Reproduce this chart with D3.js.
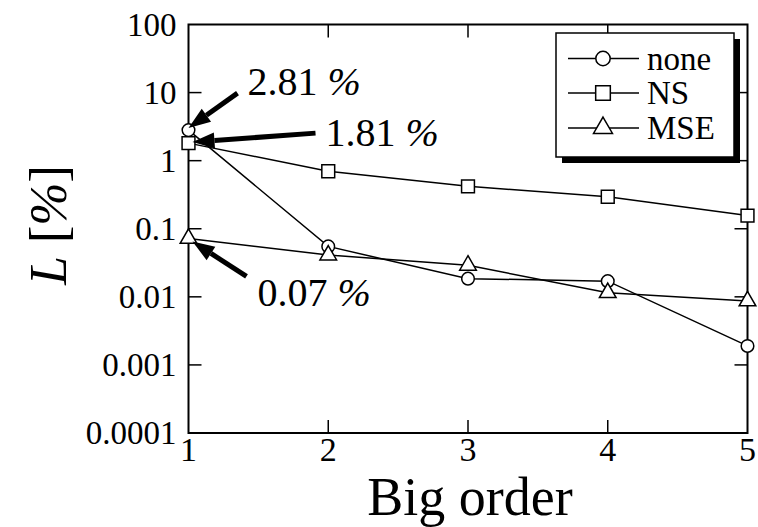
<!DOCTYPE html>
<html><head><meta charset="utf-8">
<script src="https://cdn.jsdelivr.net/npm/d3@7"></script>
<style>body{margin:0;background:#fff}svg{display:block}text{font-family:"Liberation Serif","Times New Roman",serif;fill:#000}</style>
</head><body>
<svg id="c" width="758" height="527"></svg>
<script>
const orders = [1, 2, 3, 4, 5];
const noneVals = [2.81, 0.055, 0.0185, 0.017, 0.0019];
const nsVals = [1.81, 0.70, 0.42, 0.295, 0.156];
const mseVals = [0.072, 0.041, 0.029, 0.0115, 0.0087];
const seriesNames = ["none", "NS", "MSE"];
const yTicks = [100, 10, 1, 0.1, 0.01, 0.001, 0.0001];
const yTickLabels = ["100", "10", "1", "0.1", "0.01", "0.001", "0.0001"];
const xTicks = [1, 2, 3, 4, 5];
const annotations = [
  {series: 0, idx: 0, num: "2.81"},
  {series: 1, idx: 0, num: "1.81"},
  {series: 2, idx: 0, num: "0.07"}
];

const FF = "'Liberation Serif','Times New Roman',serif";
const svg = d3.select("#c");
const L = 188.5, R = 747.5, T = 24.5, B = 433;
const x = d3.scaleLinear().domain([1, 5]).range([L, R]);
const y = d3.scaleLog().domain([0.0001, 100]).range([B, T]);
const series = [noneVals, nsVals, mseVals];
const shapes = [d3.symbolCircle, d3.symbolSquare, d3.symbolTriangle];
const sizes = [125, 165, 120];

// frame
svg.append("rect").attr("x", L).attr("y", T).attr("width", R - L).attr("height", B - T)
  .attr("fill", "none").attr("stroke", "#000").attr("stroke-width", 2);

// y ticks (left & right, inward)
const tl = 13;
yTicks.forEach((v, i) => {
  const yy = y(v);
  if (i > 0 && i < yTicks.length - 1) {
    svg.append("line").attr("x1", L).attr("x2", L + tl).attr("y1", yy).attr("y2", yy).attr("stroke", "#000").attr("stroke-width", 1.5);
    svg.append("line").attr("x1", R).attr("x2", R - tl).attr("y1", yy).attr("y2", yy).attr("stroke", "#000").attr("stroke-width", 1.5);
  }
  svg.append("text").attr("x", L - 12).attr("y", yy).attr("dy", "0.34em").attr("text-anchor", "end")
    .attr("font-family", FF).attr("font-size", 33).text(yTickLabels[i]);
});
// x ticks (bottom & top, inward)
xTicks.forEach((v, i) => {
  const xx = x(v);
  if (i > 0 && i < xTicks.length - 1) {
    svg.append("line").attr("x1", xx).attr("x2", xx).attr("y1", B).attr("y2", B - tl).attr("stroke", "#000").attr("stroke-width", 1.5);
    svg.append("line").attr("x1", xx).attr("x2", xx).attr("y1", T).attr("y2", T + tl).attr("stroke", "#000").attr("stroke-width", 1.5);
  }
  svg.append("text").attr("x", xx).attr("y", 461).attr("text-anchor", "middle")
    .attr("font-family", FF).attr("font-size", 34).text(String(v));
});

// axis labels
svg.append("text").attr("x", 470).attr("y", 515).attr("text-anchor", "middle").attr("font-family", FF).attr("font-size", 54).text("Big order");
const yl = svg.append("text").attr("transform", "translate(66,225) rotate(-90)").attr("text-anchor", "middle").attr("font-family", FF).attr("font-size", 52);
yl.append("tspan").attr("font-style", "italic").text("L");
yl.append("tspan").text(" [");
yl.append("tspan").attr("font-style", "italic").text("%");
yl.append("tspan").text("]");

// lines
const line = d3.line().x((d, i) => x(orders[i])).y(d => y(d));
series.forEach(s => {
  svg.append("path").attr("d", line(s)).attr("fill", "none").attr("stroke", "#000").attr("stroke-width", 1.5);
});
// markers
series.forEach((s, k) => {
  svg.selectAll(null).data(s).enter().append("path")
    .attr("transform", (d, i) => `translate(${x(orders[i])},${y(d)})`)
    .attr("d", d3.symbol().type(shapes[k]).size(sizes[k]))
    .attr("fill", "#fff").attr("stroke", "#000").attr("stroke-width", 1.5);
});

// annotations with arrows
const arrowGeom = [
  {tail: [49, -37], tip: [0, -2], tx: 59, ty: -35},
  {tail: [127, -10], tip: [4, -1], tx: 137, ty: 3},
  {tail: [58, 38], tip: [4, 3], tx: 69, ty: 68}
];
function arrow(x1, y1, x2, y2) {
  const ang = Math.atan2(y2 - y1, x2 - x1);
  const hl = 22, hw = 8;
  const bx = x2 - hl * Math.cos(ang), by = y2 - hl * Math.sin(ang);
  svg.append("line").attr("x1", x1).attr("y1", y1).attr("x2", bx).attr("y2", by).attr("stroke", "#000").attr("stroke-width", 5);
  const px = -Math.sin(ang) * hw, py = Math.cos(ang) * hw;
  svg.append("path").attr("d", `M${x2},${y2}L${bx + px},${by + py}L${bx - px},${by - py}Z`).attr("fill", "#000");
}
annotations.forEach((a, i) => {
  const px = x(orders[a.idx]), py = y(series[a.series][a.idx]);
  const g = arrowGeom[i];
  arrow(px + g.tail[0], py + g.tail[1], px + g.tip[0], py + g.tip[1]);
  const t = svg.append("text").attr("x", px + g.tx).attr("y", py + g.ty).attr("font-family", FF).attr("font-size", 40);
  t.append("tspan").text(a.num + " ");
  t.append("tspan").attr("font-style", "italic").text("%");
});

// legend
const lx = 556, ly = 33, lw = 178, lh = 124;
svg.append("rect").attr("x", lx + 6).attr("y", ly + 6).attr("width", lw).attr("height", lh).attr("fill", "#000");
svg.append("rect").attr("x", lx).attr("y", ly).attr("width", lw).attr("height", lh).attr("fill", "#fff").attr("stroke", "#000").attr("stroke-width", 1.5);
const rowY = [58.5, 93, 128];
seriesNames.forEach((n, k) => {
  svg.append("line").attr("x1", 568).attr("x2", 639).attr("y1", rowY[k]).attr("y2", rowY[k]).attr("stroke", "#000").attr("stroke-width", 1.5);
  svg.append("path").attr("transform", `translate(603,${rowY[k]})`).attr("d", d3.symbol().type(shapes[k]).size(sizes[k] * 1.3))
    .attr("fill", "#fff").attr("stroke", "#000").attr("stroke-width", 1.5);
  svg.append("text").attr("x", 647).attr("y", rowY[k]).attr("dy", "0.34em").attr("font-family", FF).attr("font-size", 33).text(n);
});
</script>
</body></html>
